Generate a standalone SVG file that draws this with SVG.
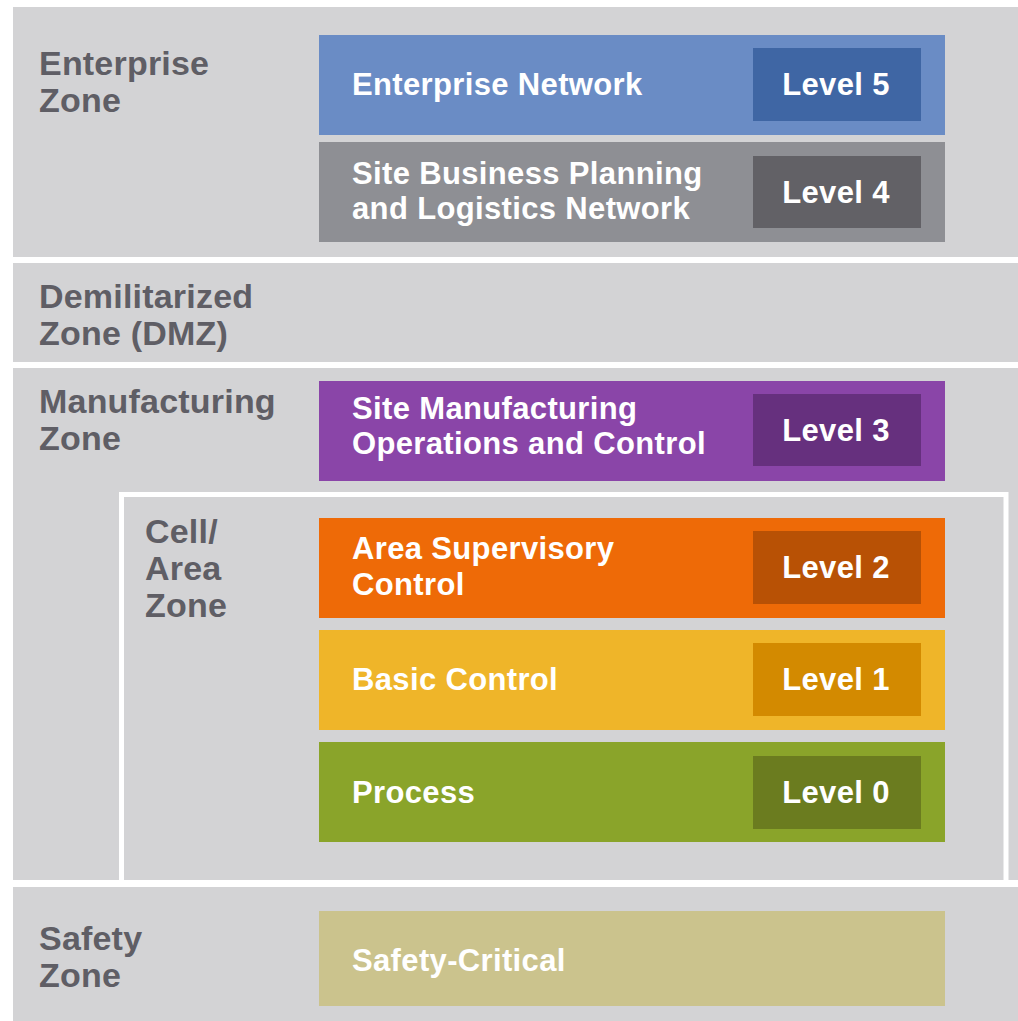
<svg xmlns="http://www.w3.org/2000/svg" width="1018" height="1021" viewBox="0 0 1018 1021">
  <style>
    .zone { fill: #d3d3d5; }
    .zlabel { font-family: "Liberation Sans", Arial, sans-serif; font-weight: bold; font-size: 34px; fill: #5f5e65; letter-spacing: 0.2px; }
    .blabel { font-family: "Liberation Sans", Arial, sans-serif; font-weight: bold; font-size: 31px; fill: #ffffff; letter-spacing: 0.35px; }
  </style>
  <rect x="0" y="0" width="1018" height="1021" fill="#ffffff"/>

  <g id="enterprise-zone">
    <rect class="zone" x="13" y="7" width="1005" height="250"/>
    <text class="zlabel" x="39" y="75">Enterprise</text>
    <text class="zlabel" x="39" y="112">Zone</text>
  </g>

  <g id="dmz-zone">
    <rect class="zone" x="13" y="263" width="1005" height="99"/>
    <text class="zlabel" x="39" y="308">Demilitarized</text>
    <text class="zlabel" x="39" y="345">Zone (DMZ)</text>
  </g>

  <g id="manufacturing-zone">
    <rect class="zone" x="13" y="368" width="1005" height="512"/>
    <text class="zlabel" x="39" y="413">Manufacturing</text>
    <text class="zlabel" x="39" y="450">Zone</text>
  </g>

  <g id="cell-area-zone">
    <rect x="121.5" y="494.5" width="884.5" height="390" fill="none" stroke="#ffffff" stroke-width="5"/>
    <text class="zlabel" x="145" y="543">Cell/</text>
    <text class="zlabel" x="145" y="580">Area</text>
    <text class="zlabel" x="145" y="617">Zone</text>
  </g>

  <g id="safety-zone">
    <rect class="zone" x="13" y="887" width="1005" height="134"/>
    <text class="zlabel" x="39" y="950">Safety</text>
    <text class="zlabel" x="39" y="987">Zone</text>
  </g>

  <g id="level5">
    <rect x="319" y="35" width="626" height="100" fill="#6a8cc5"/>
    <rect x="753" y="48" width="168" height="73" fill="#3f66a4"/>
    <text class="blabel" x="352" y="95">Enterprise Network</text>
    <text class="blabel" x="836" y="95" text-anchor="middle">Level 5</text>
  </g>

  <g id="level4">
    <rect x="319" y="142" width="626" height="100" fill="#8e8f94"/>
    <rect x="753" y="156" width="168" height="72" fill="#626166"/>
    <text class="blabel" x="352" y="184">Site Business Planning</text>
    <text class="blabel" x="352" y="219">and Logistics Network</text>
    <text class="blabel" x="836" y="203" text-anchor="middle">Level 4</text>
  </g>

  <g id="level3">
    <rect x="319" y="381" width="626" height="100" fill="#8a45a8"/>
    <rect x="753" y="394" width="168" height="72" fill="#66307e"/>
    <text class="blabel" x="352" y="419">Site Manufacturing</text>
    <text class="blabel" x="352" y="454">Operations and Control</text>
    <text class="blabel" x="836" y="441" text-anchor="middle">Level 3</text>
  </g>

  <g id="level2">
    <rect x="319" y="518" width="626" height="100" fill="#ee6a07"/>
    <rect x="753" y="531" width="168" height="73" fill="#b85105"/>
    <text class="blabel" x="352" y="559">Area Supervisory</text>
    <text class="blabel" x="352" y="595">Control</text>
    <text class="blabel" x="836" y="578" text-anchor="middle">Level 2</text>
  </g>

  <g id="level1">
    <rect x="319" y="630" width="626" height="100" fill="#efb529"/>
    <rect x="753" y="643" width="168" height="73" fill="#d38a00"/>
    <text class="blabel" x="352" y="690">Basic Control</text>
    <text class="blabel" x="836" y="690" text-anchor="middle">Level 1</text>
  </g>

  <g id="level0">
    <rect x="319" y="742" width="626" height="100" fill="#8aa42a"/>
    <rect x="753" y="756" width="168" height="73" fill="#6b7c1f"/>
    <text class="blabel" x="352" y="803">Process</text>
    <text class="blabel" x="836" y="803" text-anchor="middle">Level 0</text>
  </g>

  <g id="safety-critical">
    <rect x="319" y="911" width="626" height="95" fill="#cbc38d"/>
    <text class="blabel" x="352" y="971">Safety-Critical</text>
  </g>

  <g id="connectors"/>
</svg>
